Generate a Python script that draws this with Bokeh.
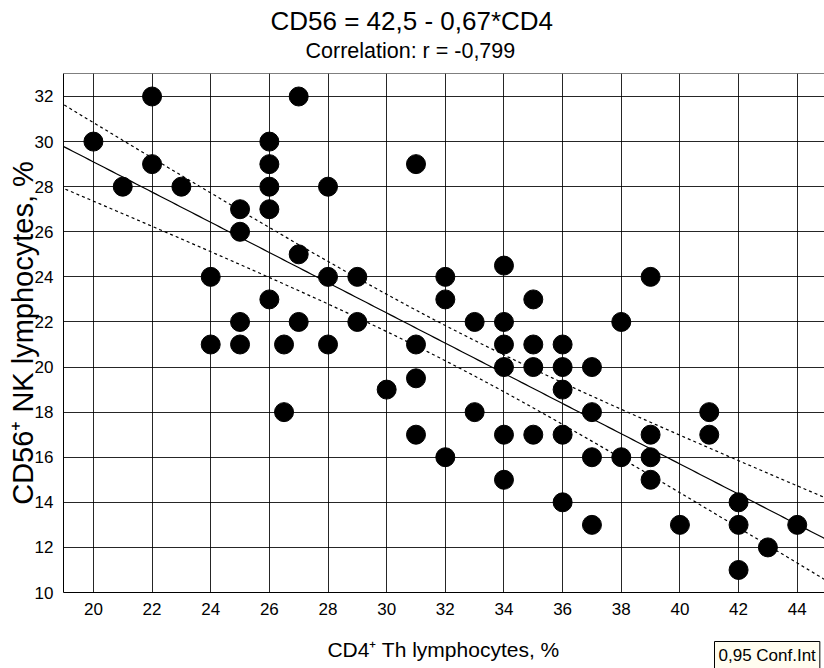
import numpy as np
from bokeh.plotting import figure
from bokeh.models import Label, Span, FixedTicker, Title
from bokeh.embed import file_html
from bokeh.resources import INLINE

# ---- data ----
cd4 = [20, 21, 22, 22, 23, 24, 24, 25, 25, 25, 25, 26, 26, 26, 26, 26, 26.5, 26.5,
       27, 27, 27, 28, 28, 28, 29, 29, 30, 31, 31, 31, 31, 32, 32, 32, 33, 33,
       34, 34, 34, 34, 34, 34, 35, 35, 35, 35, 36, 36, 36, 36, 36, 37, 37, 37, 37,
       38, 38, 39, 39, 39, 39, 40, 41, 41, 42, 42, 42, 43, 44]
cd56 = [30, 28, 32, 29, 28, 24, 21, 27, 26, 22, 21, 30, 29, 28, 27, 23, 21, 18,
        32, 25, 22, 28, 24, 21, 24, 22, 19, 29, 21, 19.5, 17, 24, 23, 16, 22, 18,
        24.5, 22, 21, 20, 17, 15, 23, 21, 20, 17, 21, 20, 19, 17, 14, 20, 18, 16, 13,
        22, 16, 24, 17, 16, 15, 13, 18, 17, 14, 13, 11, 12, 13]
intercept = 42.5
slope = -0.67
t_crit = 1.996          # t(0.975, df = n-2)
x_ticks = [20, 22, 24, 26, 28, 30, 32, 34, 36, 38, 40, 42, 44]
y_ticks = [10, 12, 14, 16, 18, 20, 22, 24, 26, 28, 30, 32]
title_text = "CD56 = 42,5 - 0,67*CD4"
subtitle_text = "Correlation: r = -0,799"
x_label = "CD4\u207a Th lymphocytes, %"
y_label = "CD56\u207a NK lymphocytes, %"
legend_text = "0,95 Conf.Int"

x_lo, x_hi = 18.98, 44.93
y_lo, y_hi = 10, 33.02

FONT = "Liberation Sans"

# ---- regression and confidence band ----
x = np.array(cd4, dtype=float)
y = np.array(cd56, dtype=float)
n = len(x)
res = y - (intercept + slope * x)
s = np.sqrt(np.sum(res ** 2) / (n - 2))
xm = x.mean()
sxx = np.sum((x - xm) ** 2)
xl = np.linspace(x_lo - 0.5, x_hi + 0.5, 200)
yl = intercept + slope * xl
half = t_crit * s * np.sqrt(1.0 / n + (xl - xm) ** 2 / sxx)

p = figure(width=824, height=668, x_range=(x_lo, x_hi), y_range=(y_lo, y_hi),
           output_backend="svg", toolbar_location=None,
           min_border_left=63, min_border_right=0, min_border_top=73,
           min_border_bottom=76)
p.outline_line_color = None
p.background_fill_color = "white"
p.border_fill_color = "white"

for ax, ticks in ((p.xaxis, x_ticks), (p.yaxis, y_ticks)):
    ax.ticker = FixedTicker(ticks=ticks)
    ax.major_tick_in = 0
    ax.major_tick_out = 0
    ax.minor_tick_line_color = None
    ax.axis_line_color = "black"
    ax.axis_line_width = 1
    ax.major_label_text_font = FONT
    ax.major_label_text_font_size = "17px"
    ax.major_label_text_color = "black"
    ax.axis_label_text_font = FONT
    ax.axis_label_text_font_style = "normal"
    ax.axis_label_text_color = "black"

p.xaxis.major_label_standoff = 10
p.yaxis.major_label_standoff = 10
p.yaxis.axis_label = y_label
p.yaxis.axis_label_text_font_size = "29px"
p.yaxis.axis_label_standoff = -7

p.xgrid.ticker = FixedTicker(ticks=x_ticks)
p.ygrid.ticker = FixedTicker(ticks=y_ticks)
for g in (p.xgrid, p.ygrid):
    g.grid_line_color = "black"
    g.grid_line_width = 1
    g.grid_line_alpha = 0.85

p.add_layout(Span(location=y_hi, dimension="width", line_color="black", line_width=1))

p.line(xl, yl, line_color="black", line_width=1.2)
p.line(xl, yl + half, line_color="black", line_width=1.2, line_dash="3 3")
p.line(xl, yl - half, line_color="black", line_width=1.2, line_dash="3 3")
p.scatter(cd4, cd56, size=19, fill_color="black", line_color="black")

# spacer between frame and subtitle
p.add_layout(Title(text=" ", text_font_size="1px", standoff=6), "above")
p.add_layout(Title(text=subtitle_text, align="left", offset=242, standoff=3,
                   text_font=FONT, text_font_size="21.5px", text_font_style="normal",
                   text_color="black"), "above")
p.add_layout(Title(text=title_text, align="left", offset=207, standoff=0,
                   text_font=FONT, text_font_size="26px", text_font_style="normal",
                   text_color="black"), "above")

# x-axis title and confidence-interval legend (canvas coordinates, bottom band)
p.add_layout(Label(x=443, y=649, x_units="canvas", y_units="canvas", text=x_label,
                   text_align="center", text_baseline="alphabetic",
                   text_font=FONT, text_font_size="21px", text_color="black"), "below")
p.add_layout(Label(x=714, y=641, x_units="canvas", y_units="canvas", text=legend_text,
                   text_align="left", text_baseline="top",
                   text_font=FONT, text_font_size="17px", text_color="black",
                   border_line_color="black", border_line_width=1,
                   background_fill_color="#FFFDF0", padding=4), "below")

open("out.html", "w").write(file_html(p, INLINE))
